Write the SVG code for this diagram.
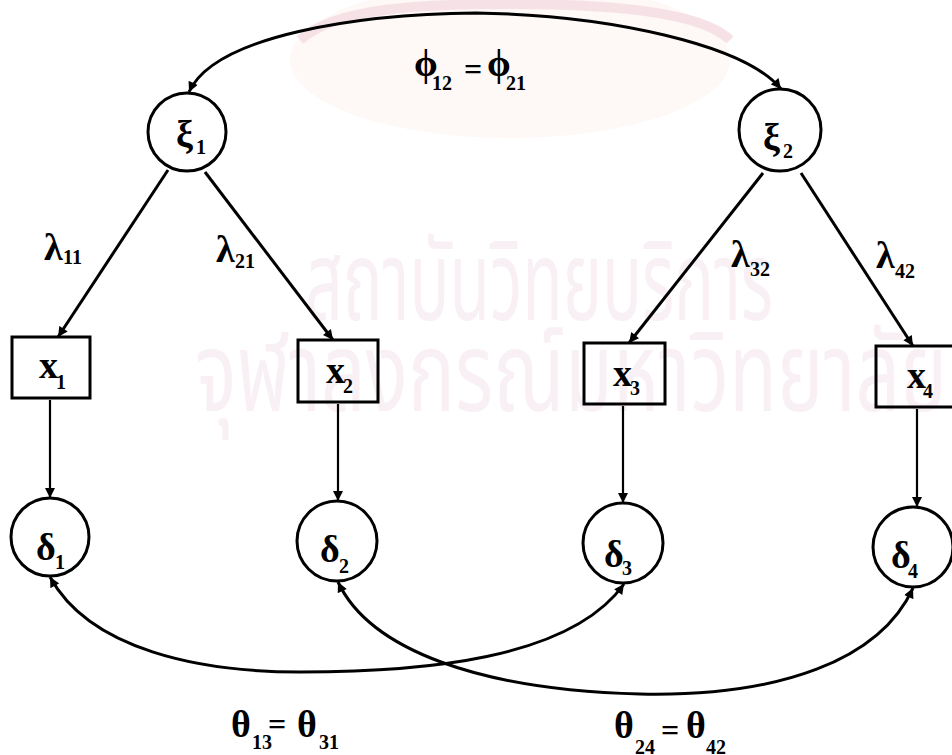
<svg xmlns="http://www.w3.org/2000/svg" width="952" height="755" viewBox="0 0 952 755">
<style>
  .node { fill: none; stroke: #000; stroke-width: 3; }
  .lbl { font-family: "Liberation Serif", "Times New Roman", serif; font-weight: bold; font-size: 38px; fill: #000; }
  .sub { font-size: 20px; }
  .eq { font-size: 32px; }
  .wm { font-family: "Noto Sans Thai", "Noto Sans", "DejaVu Sans", sans-serif; font-size: 110px; fill: #f9f0f6; }
  .edge { fill: none; stroke: #000; stroke-width: 3; }
  .thin { stroke-width: 2.2; }
</style>
<defs>
  <marker id="arr" viewBox="0 0 10 10" refX="10" refY="5" markerWidth="11" markerHeight="10" markerUnits="userSpaceOnUse" orient="auto-start-reverse">
    <path d="M0,0 L10,5 L0,10 z" fill="#000"/>
  </marker>
</defs>
<rect width="952" height="755" fill="#fff"/>
<g id="watermark">
  <ellipse cx="510" cy="60" rx="220" ry="78" fill="#fef8f6"/>
  <path d="M300,40 C335,8 420,4 510,4 C600,4 700,10 730,40" fill="none" stroke="#f6e2e6" stroke-width="10"/>
  <text class="wm" x="305" y="320" textLength="468" lengthAdjust="spacingAndGlyphs">สถาบันวิทยบริการ</text>
  <text class="wm" x="195" y="411" textLength="752" lengthAdjust="spacingAndGlyphs">จุฬาลงกรณ์มหาวิทยาลัย</text>
</g>
<g id="connectors">
  <path class="edge" d="M189,92 C215,35 360,14 476,13 C610,15 745,45 781,89" marker-start="url(#arr)" marker-end="url(#arr)"/>
  <line class="edge" x1="168" y1="170" x2="58" y2="337" marker-end="url(#arr)"/>
  <line class="edge" x1="205" y1="172" x2="333" y2="340" marker-end="url(#arr)"/>
  <line class="edge" x1="763" y1="173" x2="629" y2="343" marker-end="url(#arr)"/>
  <line class="edge" x1="801" y1="173" x2="913" y2="346" marker-end="url(#arr)"/>
  <line class="edge thin" x1="50" y1="400" x2="50" y2="498" marker-end="url(#arr)"/>
  <line class="edge thin" x1="338" y1="404" x2="338" y2="501" marker-end="url(#arr)"/>
  <line class="edge thin" x1="623" y1="406" x2="623" y2="503" marker-end="url(#arr)"/>
  <line class="edge thin" x1="917" y1="409" x2="917" y2="507" marker-end="url(#arr)"/>
  <path class="edge" d="M50,577 C90,650 200,672 300,672 C420,672 570,660 624,584" marker-start="url(#arr)" marker-end="url(#arr)"/>
  <path class="edge" d="M338,582 C370,650 480,690 640,694 C780,697 880,660 913,588" marker-start="url(#arr)" marker-end="url(#arr)"/>
</g>
<g id="xi1">
  <circle class="node" cx="187" cy="132" r="39"/>
  <text class="lbl" x="176" y="147">ξ<tspan class="sub" x="196" y="154">1</tspan></text>
</g>
<g id="xi2">
  <circle class="node" cx="780" cy="130" r="41"/>
  <text class="lbl" x="763" y="150">ξ<tspan class="sub" x="783" y="158">2</tspan></text>
</g>
<g id="x1">
  <rect class="node" x="12" y="337" width="78" height="61"/>
  <text class="lbl" x="39" y="378">x<tspan class="sub" x="56" y="389">1</tspan></text>
</g>
<g id="x2">
  <rect class="node" x="298" y="340" width="80" height="62"/>
  <text class="lbl" x="326" y="383">x<tspan class="sub" x="343" y="393">2</tspan></text>
</g>
<g id="x3">
  <rect class="node" x="584" y="343" width="81" height="61"/>
  <text class="lbl" x="613" y="386">x<tspan class="sub" x="630" y="395">3</tspan></text>
</g>
<g id="x4">
  <rect class="node" x="876" y="346" width="78" height="61"/>
  <text class="lbl" x="907" y="388">x<tspan class="sub" x="923" y="398">4</tspan></text>
</g>
<g id="delta1">
  <circle class="node" cx="50" cy="537" r="39"/>
  <text class="lbl" x="36" y="560">δ<tspan class="sub" x="55" y="569">1</tspan></text>
</g>
<g id="delta2">
  <circle class="node" cx="337" cy="541" r="40"/>
  <text class="lbl" x="320" y="562">δ<tspan class="sub" x="339" y="573">2</tspan></text>
</g>
<g id="delta3">
  <circle class="node" cx="623" cy="543" r="40"/>
  <text class="lbl" x="604" y="567">δ<tspan class="sub" x="622" y="575">3</tspan></text>
</g>
<g id="delta4">
  <circle class="node" cx="913" cy="547" r="40"/>
  <text class="lbl" x="891" y="568">δ<tspan class="sub" x="908" y="578">4</tspan></text>
</g>
<g id="labels">
  <text class="lbl" x="414" y="76" font-size="34">ϕ<tspan class="sub" x="432" y="90">12</tspan><tspan class="eq" x="464" y="80">=</tspan><tspan x="487" y="76">ϕ</tspan><tspan class="sub" x="506" y="90">21</tspan></text>
  <text class="lbl" x="44" y="260">λ<tspan class="sub" x="63" y="264">11</tspan></text>
  <text class="lbl" x="216" y="262">λ<tspan class="sub" x="235" y="268">21</tspan></text>
  <text class="lbl" x="731" y="267">λ<tspan class="sub" x="750" y="276">32</tspan></text>
  <text class="lbl" x="876" y="268">λ<tspan class="sub" x="895" y="278">42</tspan></text>
  <text class="lbl" x="231" y="737" font-size="40">θ<tspan class="sub" x="252" y="749">13</tspan><tspan class="eq" x="268" y="735">=</tspan><tspan x="297" y="737">θ</tspan><tspan class="sub" x="319" y="749">31</tspan></text>
  <text class="lbl" x="614" y="738" font-size="40">θ<tspan class="sub" x="635" y="754">24</tspan><tspan class="eq" x="661" y="741">=</tspan><tspan x="686" y="738">θ</tspan><tspan class="sub" x="706" y="754">42</tspan></text>
</g>
</svg>
